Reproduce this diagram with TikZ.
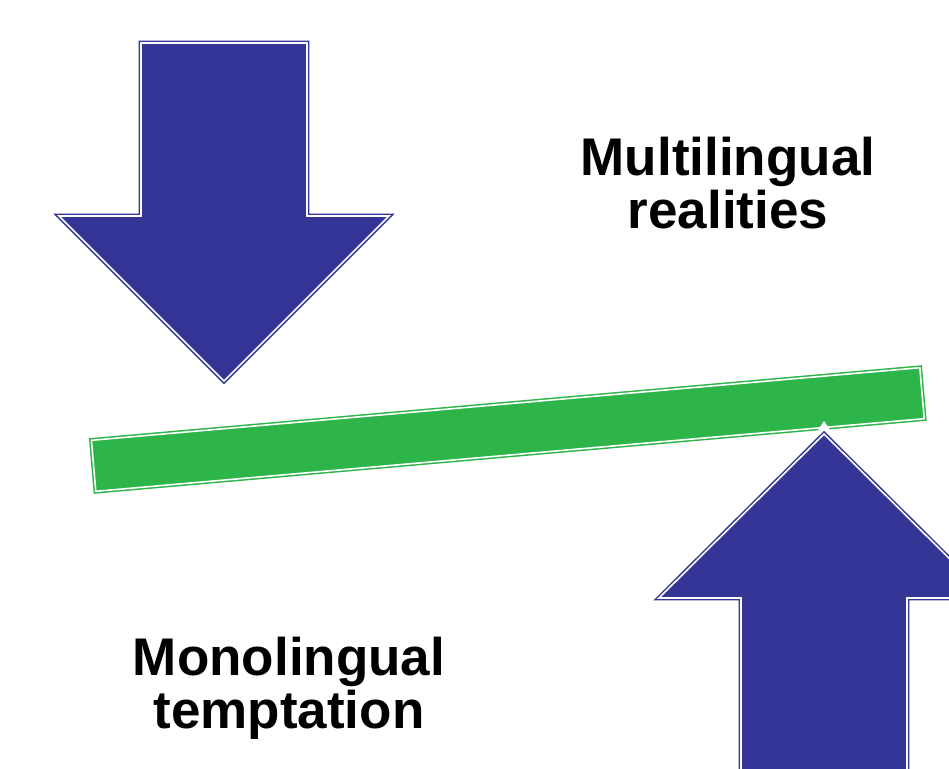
\documentclass[tikz,border=0pt]{standalone}
\usepackage{fontspec}
\setmainfont{Liberation Sans}
\definecolor{arrowblue}{RGB}{53,53,151}
\definecolor{beamgreen}{RGB}{45,181,74}
\tikzset{
  bigarrow/.style={fill=arrowblue, draw=arrowblue, double=white,
    double distance=1.6pt, line width=1.5pt, line join=miter},
  beam/.style={fill=beamgreen, draw=beamgreen, double=white,
    double distance=1.6pt, line width=1.5pt, line join=miter},
  caption/.style={font=\bfseries\fontsize{53}{53}\selectfont,
    align=center, inner sep=0pt, anchor=base}
}
\begin{document}
\begin{tikzpicture}[x=1pt, y=-1pt]
  \clip (0,0) rectangle (949,768);
  \fill[white] (0,0) rectangle (949,768);

  % downward arrow, upper left
  \draw[bigarrow] (141,43) -- (307,43) -- (307,216) -- (389,216)
    -- (224,381) -- (59,216) -- (141,216) -- cycle;

  % tilted green beam
  \draw[beam] (91.4,440.3) -- (919.8,367.7) -- (924.2,418.7)
    -- (95.8,491.3) -- cycle;

  % upward arrow, lower right, with its white rim poking into the beam
  \fill[white] (818,430) -- (824,421) -- (830,430) -- cycle;
  \draw[bigarrow] (824,434) -- (989,598) -- (907,598) -- (907,790)
    -- (741,790) -- (741,598) -- (659,598) -- cycle;

  \node[caption] (multi) at (728,228) {Multilingual\\realities};
  \node[caption] (mono) at (289,728) {Monolingual\\temptation};
\end{tikzpicture}
\end{document}
